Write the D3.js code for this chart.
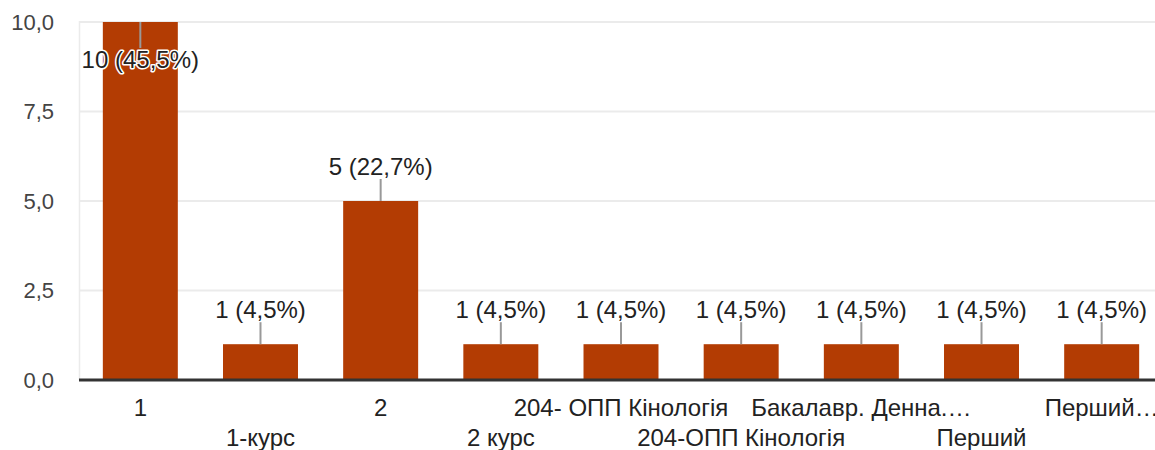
<!DOCTYPE html>
<html><head><meta charset="utf-8">
<script src="https://cdn.jsdelivr.net/npm/d3@7"></script>
<style>body{margin:0;background:#fff}svg{display:block}</style>
</head><body>
<script>
const categories = ["1","1-курс","2","2 курс","204- ОПП Кінологія","204-ОПП Кінологія","Бакалавр. Денна.…","Перший","Перший…"];
const values = [10,1,5,1,1,1,1,1,1];
const percentLabels = ["45,5%","4,5%","22,7%","4,5%","4,5%","4,5%","4,5%","4,5%","4,5%"];
const yTicks = [0,2.5,5,7.5,10];
const yTickLabels = ["0,0","2,5","5,0","7,5","10,0"];

const W=1155,H=450;
const FONT='"Liberation Sans", Arial, sans-serif';
const svg=d3.select("body").append("svg").attr("width",W).attr("height",H);
const y=d3.scaleLinear().domain([0,10]).range([380,22]);
const x=d3.scaleBand().domain(categories).range([80,1162]).paddingInner(0.376).paddingOuter(0.19);

// grid
svg.append("g").selectAll("line").data(yTicks.filter(d=>d>0)).join("line")
  .attr("x1",79).attr("x2",W).attr("y1",d=>y(d)).attr("y2",d=>y(d))
  .attr("stroke","#ebebeb").attr("stroke-width",2);
svg.append("line").attr("x1",79.5).attr("x2",79.5).attr("y1",y(10)-1).attr("y2",380).attr("stroke","#ebebeb").attr("stroke-width",1.5);

// y labels
svg.append("g").selectAll("text").data(yTicks).join("text")
  .attr("x",54).attr("y",d=>y(d)).attr("dy","0.35em").attr("text-anchor","end")
  .attr("font-family",FONT).attr("font-size",22).attr("fill","#444")
  .text((d,i)=>yTickLabels[i]);

// bars
svg.append("g").selectAll("rect").data(values).join("rect")
  .attr("x",(d,i)=>x(categories[i])).attr("width",x.bandwidth())
  .attr("y",d=>y(d)).attr("height",d=>380-y(d)).attr("fill","#b33c03");

// axis baseline
svg.append("line").attr("x1",79).attr("x2",W).attr("y1",380).attr("y2",380).attr("stroke","#333").attr("stroke-width",3);

// leader lines + labels
const cx=i=>x(categories[i])+x.bandwidth()/2;
const lab=svg.append("g");
values.forEach((v,i)=>{
  const top=y(v);
  const inside = v===10;
  const l1 = top, l2 = inside? top+26 : top-22;
  lab.append("line").attr("x1",cx(i)).attr("x2",cx(i)).attr("y1",l1).attr("y2",l2)
    .attr("stroke","#999").attr("stroke-width",2);
  const t=lab.append("text").attr("x",cx(i)).attr("y",inside? top+46 : top-26)
    .attr("text-anchor","middle").attr("font-family",FONT).attr("font-size",24).attr("fill","#222")
    .text(`${v} (${percentLabels[i]})`);
  if(inside){
    t.attr("stroke","#fff").attr("stroke-width",3).attr("paint-order","stroke").attr("stroke-linejoin","round");
  }
});

// x labels
svg.append("g").selectAll("text").data(categories).join("text")
  .attr("x",(d,i)=>cx(i)).attr("y",(d,i)=>i%2===0?416:446).attr("text-anchor","middle")
  .attr("font-family",FONT).attr("font-size",24).attr("fill","#222").text(d=>d);
</script>
</body></html>
